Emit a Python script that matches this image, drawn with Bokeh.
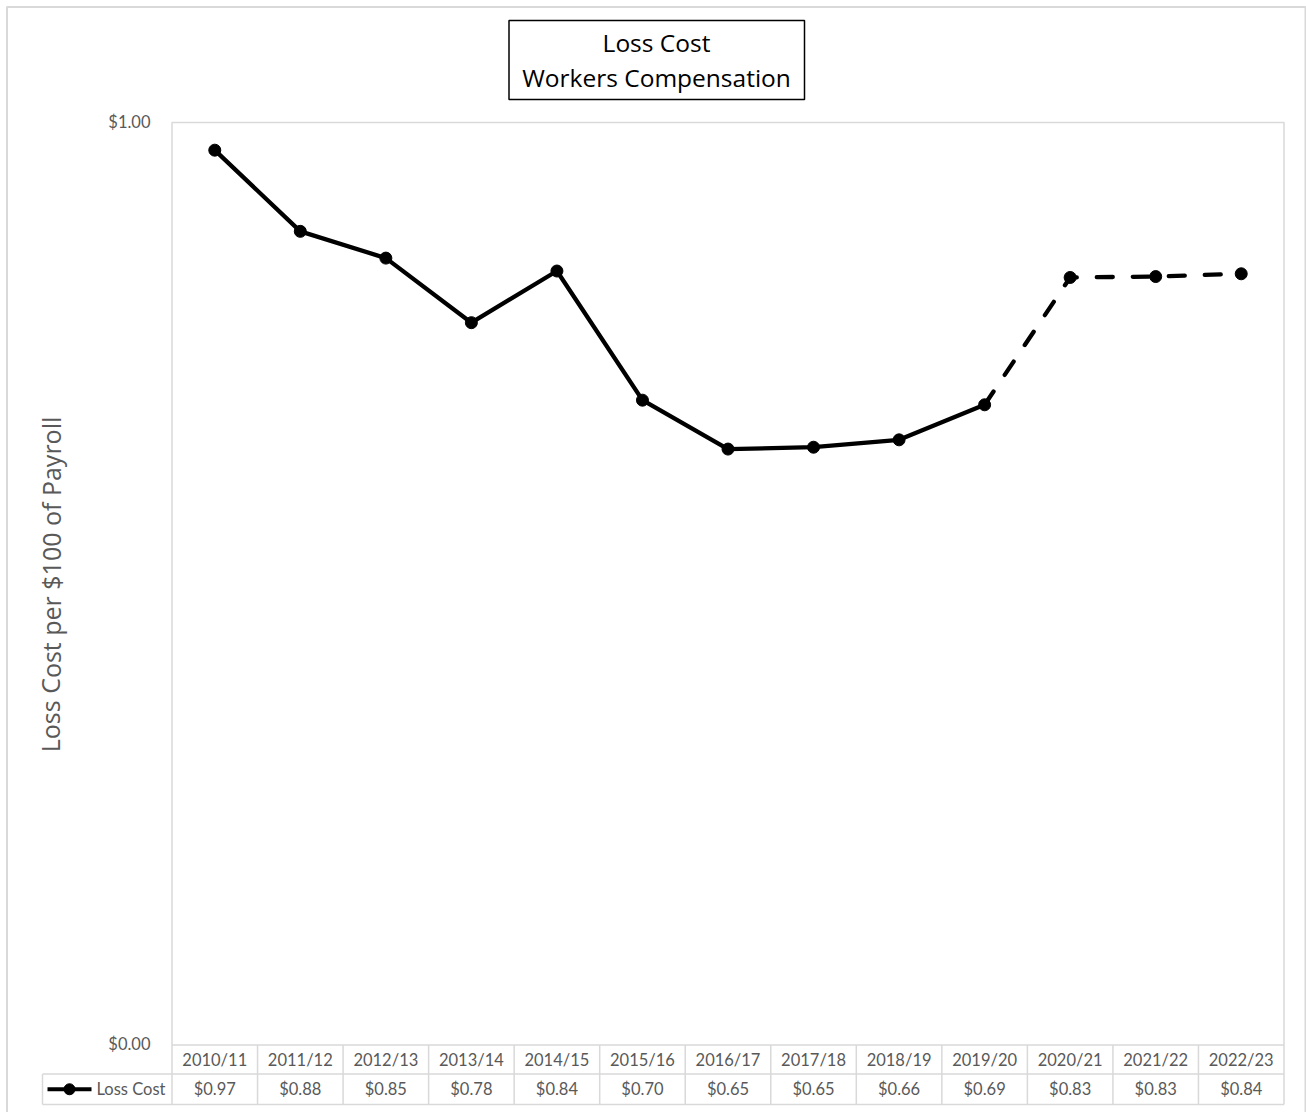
from bokeh.plotting import figure
from bokeh.models import Range1d, ColumnDataSource
from bokeh.core.properties import value
from bokeh.embed import file_html
from bokeh.resources import INLINE

# ---------------- data ----------------
categories = ["2010/11", "2011/12", "2012/13", "2013/14", "2014/15", "2015/16", "2016/17",
              "2017/18", "2018/19", "2019/20", "2020/21", "2021/22", "2022/23"]
loss_cost = [0.970, 0.882, 0.853, 0.783, 0.839, 0.699, 0.646, 0.648, 0.656, 0.694, 0.832, 0.833, 0.836]
first_projected = 10          # from 2020/21 on the line is dashed (joined from 2019/20)
y_ticks = [0.0, 1.0]
y_tick_labels = ["$0.00", "$1.00"]
title_lines = ["Loss Cost", "Workers Compensation"]
y_title = "Loss Cost per $100 of Payroll"
series_name = "Loss Cost"

# ---------------- layout (pixels) ----------------
W, H = 1306, 1112
PL, PR, PT, PB = 171.5, 1283.5, 122.0, 1044.5   # plot area
ROW1_B, ROW2_B = 1073.5, 1104.0                  # data-table row bottoms
LEG_L = 42.0
n = len(categories)
sx = (PR - PL) / n
sy = (PB - PT) / 1.0

def X(px):
    return (px - PL) / sx

def Y(py):
    return (PB - py) / sy

FONT = value("Lato")
TFONT = value("Open Sans")
GRAY_TXT = "#595959"
GRID = "#d9d9d9"

p = figure(width=W, height=H, x_range=Range1d(X(0), X(W)), y_range=Range1d(Y(H), Y(0)),
           x_axis_type=None, y_axis_type=None, toolbar_location=None, output_backend="svg",
           min_border=0, outline_line_color=None, background_fill_color="white",
           border_fill_color="white")
p.grid.visible = False

# outer chart border
p.line([X(6.5), X(6.5), X(1305), X(1305)], [Y(1130), Y(6.5), Y(6.5), Y(1130)],
       line_color=GRID, line_width=2)

# plot area border
p.line([X(PL), X(PL), X(PR), X(PR)], [Y(PB), Y(PT), Y(PT), Y(PB)], line_color=GRID, line_width=1.5)

# data table grid
xs0, ys0, xs1, ys1 = [], [], [], []
for k in range(n + 1):
    xs0.append(k); xs1.append(k); ys0.append(Y(PB)); ys1.append(Y(ROW2_B))
for yy in (PB, ROW1_B, ROW2_B):
    xs0.append(0 if yy == PB else X(LEG_L)); xs1.append(n); ys0.append(Y(yy)); ys1.append(Y(yy))
xs0.append(X(LEG_L)); xs1.append(X(LEG_L)); ys0.append(Y(ROW1_B)); ys1.append(Y(ROW2_B))
p.segment(xs0, ys0, xs1, ys1, line_color=GRID, line_width=1.5)

centers = [i + 0.5 for i in range(n)]
row1_y = Y((PB + ROW1_B) / 2)
row2_y = Y((ROW1_B + ROW2_B) / 2)
p.text(centers, [row1_y] * n, text=categories, text_font=FONT, text_font_size="16.5px",
       text_color=GRAY_TXT, text_align="center", text_baseline="middle")
p.text(centers, [row2_y] * n, text=["$%.2f" % v for v in loss_cost], text_font=FONT,
       text_font_size="16.5px", text_color=GRAY_TXT, text_align="center", text_baseline="middle")

# legend key in the data table
p.line([X(47), X(91)], [row2_y, row2_y], line_color="black", line_width=4)
p.scatter([X(69)], [row2_y], size=11, marker="circle", color="black")
p.text([X(96)], [row2_y], text=[series_name], text_font=FONT, text_font_size="16.5px",
       text_color=GRAY_TXT, text_align="left", text_baseline="middle")

# y tick labels
p.text([X(150)] * len(y_ticks), [t for t in y_ticks], text=y_tick_labels, text_font=FONT,
       text_font_size="16.5px", text_color=GRAY_TXT, text_align="right", text_baseline="middle",
       y_offset=-1)

# y axis title
p.text([X(50)], [Y(584)], text=[y_title], text_font=TFONT, text_font_size="25px",
       text_color=GRAY_TXT, text_align="center", text_baseline="middle", angle=1.5707963)

# series
solid = ColumnDataSource(dict(x=centers[:first_projected], y=loss_cost[:first_projected]))
dashed = ColumnDataSource(dict(x=centers[first_projected - 1:], y=loss_cost[first_projected - 1:]))
p.line("x", "y", source=solid, line_color="black", line_width=4.3, line_join="round")
p.line("x", "y", source=dashed, line_color="black", line_width=4.3, line_dash="16 20",
       line_cap="round", line_join="round")
p.scatter(centers, loss_cost, size=12, marker="circle", color="black")

# title box
p.quad(left=[X(508.5)], right=[X(804)], top=[Y(20)], bottom=[Y(99)], fill_color="white",
       line_color="black", line_width=1.5)
p.text([X(656)] * 2, [Y(42), Y(77)], text=title_lines, text_font=TFONT, text_font_size="24.5px",
       text_color="black", text_align="center", text_baseline="middle")

open("out.html", "w").write(file_html(p, INLINE))
